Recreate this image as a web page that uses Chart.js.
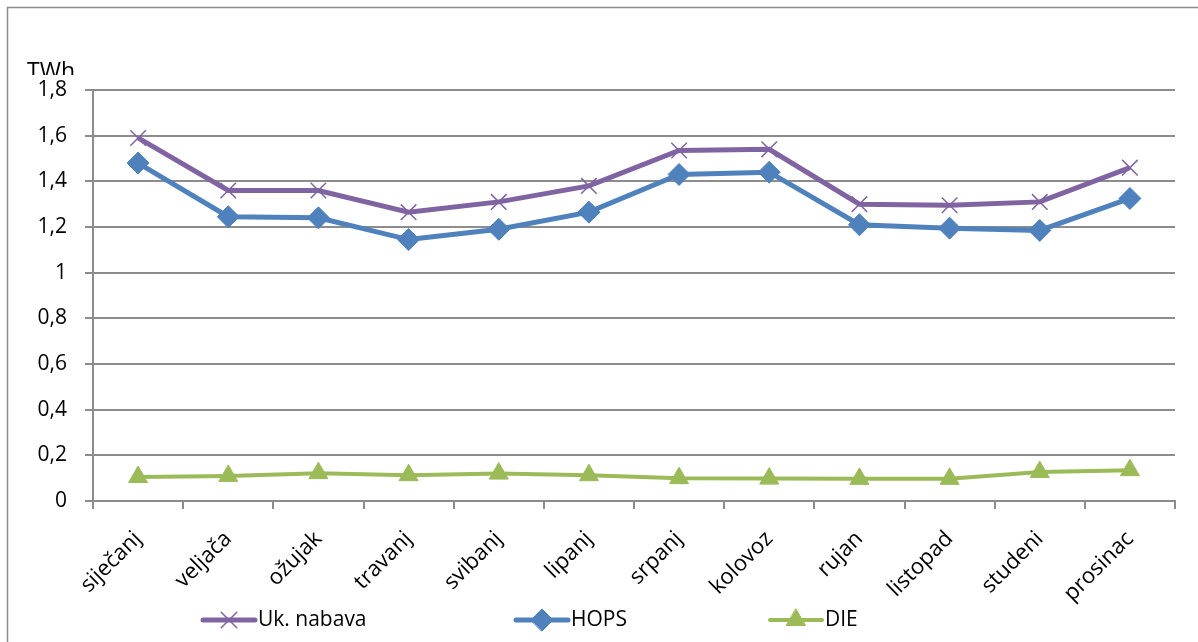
<!DOCTYPE html>
<html>
<head>
<meta charset="utf-8">
<script src="https://cdn.jsdelivr.net/npm/chart.js@4"></script>
<style>
  html, body { margin: 0; padding: 0; background: #fff; overflow: hidden; }
  #wrap { position: relative; width: 1198px; height: 642px; }
</style>
</head>
<body>
<div id="wrap"><canvas id="chart" width="1198" height="642"></canvas></div>
<script>
const months = ['siječanj', 'veljača', 'ožujak', 'travanj', 'svibanj', 'lipanj',
  'srpanj', 'kolovoz', 'rujan', 'listopad', 'studeni', 'prosinac'];
const ukNabava = [1.59, 1.36, 1.36, 1.265, 1.31, 1.38, 1.535, 1.54, 1.30, 1.295, 1.31, 1.46];
const hops = [1.48, 1.245, 1.24, 1.145, 1.19, 1.265, 1.43, 1.44, 1.21, 1.195, 1.185, 1.325];
const die = [0.105, 0.11, 0.122, 0.113, 0.12, 0.113, 0.10, 0.098, 0.097, 0.097, 0.127, 0.135];
const yTicks = [0, 0.2, 0.4, 0.6, 0.8, 1, 1.2, 1.4, 1.6, 1.8];

const PURPLE = '#8064A2';
const BLUE = '#4F81BD';
const GREEN = '#9BBB59';
const GRID = '#8c8c8c';
const FONT = '"Open Sans", sans-serif';

Chart.defaults.font.family = FONT;
Chart.defaults.color = '#000';

// frame, TWh label and legend drawn like the Excel original
const extras = {
  id: 'extras',
  beforeDraw(chart) {
    const ctx = chart.ctx;
    ctx.save();
    ctx.strokeStyle = '#8c8c8c';
    ctx.lineWidth = 1.5;
    ctx.strokeRect(7.5, 7.5, 2000, 2000);
    ctx.restore();
  },
  afterDraw(chart) {
    const ctx = chart.ctx;
    ctx.save();
    ctx.beginPath();
    ctx.rect(0, 0, 200, 75);
    ctx.clip();
    ctx.fillStyle = '#000';
    ctx.font = '23px ' + FONT;
    ctx.textBaseline = 'alphabetic';
    ctx.fillText('TWh', 27, 79);
    ctx.restore();

    const xs = [201, 514, 768];
    const y = 620;
    ctx.save();
    chart.data.datasets.forEach((ds, i) => {
      const x = xs[i];
      ctx.strokeStyle = ds.borderColor;
      ctx.lineWidth = ds.borderWidth;
      ctx.lineCap = 'round';
      ctx.beginPath();
      ctx.moveTo(x + 2, y);
      ctx.lineTo(x + 54, y);
      ctx.stroke();
      ctx.fillStyle = ds.backgroundColor;
      ctx.strokeStyle = ds.borderColor;
      ctx.lineWidth = ds.pointBorderWidth;
      Chart.helpers.drawPoint(ctx, {
        pointStyle: ds.pointStyle,
        radius: ds.pointRadius,
        rotation: 0,
        borderWidth: ds.pointBorderWidth
      }, x + 28, y);
      ctx.fillStyle = '#000';
      ctx.font = '21px ' + FONT;
      ctx.textBaseline = 'middle';
      ctx.fillText(ds.label, x + 57, y);
    });
    ctx.restore();
  }
};

new Chart(document.getElementById('chart'), {
  type: 'line',
  data: {
    labels: months,
    datasets: [
      {
        label: 'Uk. nabava',
        data: ukNabava,
        borderColor: PURPLE,
        backgroundColor: PURPLE,
        borderWidth: 5,
        pointStyle: 'crossRot',
        pointRadius: 11,
        pointBorderWidth: 1.5,
        tension: 0
      },
      {
        label: 'HOPS',
        data: hops,
        borderColor: BLUE,
        backgroundColor: BLUE,
        borderWidth: 5,
        pointStyle: 'rectRot',
        pointRadius: 11,
        pointBorderWidth: 1,
        tension: 0
      },
      {
        label: 'DIE',
        data: die,
        borderColor: GREEN,
        backgroundColor: GREEN,
        borderWidth: 4,
        pointStyle: 'triangle',
        pointRadius: 11,
        pointBorderWidth: 1,
        tension: 0
      }
    ]
  },
  options: {
    responsive: false,
    animation: false,
    layout: { padding: { top: 90, right: 23, left: 0, bottom: 0 } },
    plugins: {
      legend: { display: false },
      tooltip: { enabled: false }
    },
    scales: {
      x: {
        offset: true,
        grid: {
          display: true,
          drawOnChartArea: false,
          offset: true,
          color: GRID,
          lineWidth: 2,
          tickLength: 8
        },
        border: { color: GRID, width: 2 },
        ticks: {
          font: { size: 22 },
          color: '#000',
          maxRotation: 45,
          minRotation: 45,
          padding: 17
        },
        afterFit(scale) { scale.height = 141; }
      },
      y: {
        min: 0,
        max: 1.8,
        afterBuildTicks(scale) { scale.ticks = yTicks.map(v => ({ value: v })); },
        grid: { color: GRID, lineWidth: 2, tickLength: 8 },
        border: { color: GRID, width: 2 },
        ticks: {
          font: { size: 21 },
          color: '#000',
          padding: 18,
          callback: v => Number.isInteger(v) ? String(v) : v.toFixed(1).replace('.', ',')
        },
        afterFit(scale) { scale.width = 93; }
      }
    }
  },
  plugins: [extras]
});
</script>
</body>
</html>
